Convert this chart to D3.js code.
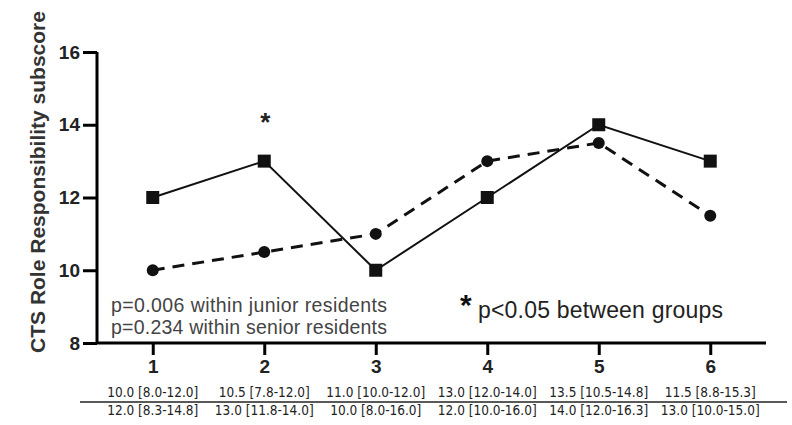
<!DOCTYPE html>
<html>
<head>
<meta charset="utf-8">
<script src="https://cdn.jsdelivr.net/npm/d3@7"></script>
<style>
  body { margin: 0; background: #fff; }
  svg { font-family: Arial, "Liberation Sans", sans-serif; }
</style>
</head>
<body>
<div id="chart"></div>
<script>
// time points and median scores
var timepoints = [1, 2, 3, 4, 5, 6];
var seniorScores = [12, 13, 10, 12, 14, 13];
var juniorScores = [10, 10.5, 11, 13, 13.5, 11.5];
var yTicks = [8, 10, 12, 14, 16];
var juniorLabels = ["10.0 [8.0-12.0]", "10.5 [7.8-12.0]", "11.0 [10.0-12.0]", "13.0 [12.0-14.0]", "13.5 [10.5-14.8]", "11.5 [8.8-15.3]"];
var seniorLabels = ["12.0 [8.3-14.8]", "13.0 [11.8-14.0]", "10.0 [8.0-16.0]", "12.0 [10.0-16.0]", "14.0 [12.0-16.3]", "13.0 [10.0-15.0]"];
var sigPoints = [2];

var width = 792, height = 425;
var margin = {top: 52, left: 97, bottom: 82, right: 25};

var x = d3.scaleLinear().domain([0.5, 6.5]).range([margin.left, width - margin.right - 1]);
var y = d3.scaleLinear().domain([8, 16]).range([height - margin.bottom, margin.top]);

var svg = d3.select("#chart").append("svg")
    .attr("width", width)
    .attr("height", height);

// axes
var yAxis = d3.axisLeft(y).tickValues(yTicks).tickSize(14).tickPadding(3);
var gy = svg.append("g")
    .attr("transform", "translate(" + margin.left + ",0)")
    .call(yAxis);
gy.select(".domain").attr("d", "M0," + y(16) + "V" + y(8)).attr("stroke-width", 3);
gy.selectAll(".tick line").attr("stroke-width", 3);
gy.selectAll(".tick text").attr("font-size", 19).attr("font-weight", "bold").attr("fill", "#222");

var xAxis = d3.axisBottom(x).tickValues(timepoints).tickFormat(d3.format("d")).tickSize(12).tickPadding(5);
var gx = svg.append("g")
    .attr("transform", "translate(0," + y(8) + ")")
    .call(xAxis);
gx.select(".domain").attr("d", "M" + margin.left + ",0H" + x(6.5)).attr("stroke-width", 3);
gx.selectAll(".tick line").attr("stroke-width", 3);
gx.selectAll(".tick text").attr("font-size", 19).attr("font-weight", "bold").attr("fill", "#222");

// y label
svg.append("text")
    .attr("transform", "translate(45," + 182 + ") rotate(-90)")
    .attr("text-anchor", "middle")
    .attr("font-size", 21)
    .attr("font-weight", "bold")
    .attr("fill", "#333")
    .text("CTS Role Responsibility subscore");

var line = d3.line()
    .x(function(d, i) { return x(timepoints[i]); })
    .y(function(d) { return y(d); });

// senior residents - solid line, squares
svg.append("path")
    .attr("d", line(seniorScores))
    .attr("fill", "none")
    .attr("stroke", "#111")
    .attr("stroke-width", 2);

// junior residents - dashed line, circles
svg.append("path")
    .attr("d", line(juniorScores))
    .attr("fill", "none")
    .attr("stroke", "#111")
    .attr("stroke-width", 3)
    .attr("stroke-dasharray", "12,8");

svg.selectAll("rect.pt")
    .data(seniorScores)
    .enter()
    .append("rect")
    .attr("class", "pt")
    .attr("x", function(d, i) { return x(timepoints[i]) - 6.5; })
    .attr("y", function(d) { return y(d) - 6.5; })
    .attr("width", 13)
    .attr("height", 13)
    .attr("fill", "#111");

svg.selectAll("circle.pt")
    .data(juniorScores)
    .enter()
    .append("circle")
    .attr("class", "pt")
    .attr("cx", function(d, i) { return x(timepoints[i]); })
    .attr("cy", function(d) { return y(d); })
    .attr("r", 6)
    .attr("fill", "#111");

// significance star
svg.selectAll("text.sig")
    .data(sigPoints)
    .enter()
    .append("text")
    .attr("class", "sig")
    .attr("x", function(d) { return x(d) + 1; })
    .attr("y", 131)
    .attr("text-anchor", "middle")
    .attr("font-size", 26)
    .attr("font-weight", "bold")
    .attr("fill", "#222")
    .text("*");

// annotations
svg.append("text")
    .attr("x", 111).attr("y", 312)
    .attr("font-size", 19.5).attr("fill", "#444")
    .attr("textLength", 276)
    .text("p=0.006 within junior residents");
svg.append("text")
    .attr("x", 111).attr("y", 334)
    .attr("font-size", 19.5).attr("fill", "#444")
    .attr("textLength", 276)
    .text("p=0.234 within senior residents");

svg.append("text")
    .attr("x", 460).attr("y", 315)
    .attr("font-size", 30).attr("font-weight", "bold").attr("fill", "#111")
    .text("*");
svg.append("text")
    .attr("x", 478).attr("y", 318)
    .attr("font-size", 23).attr("fill", "#222")
    .attr("textLength", 245)
    .text("p<0.05 between groups");

// table under the axis
var tableFont = "'Liberation Sans Narrow', 'DejaVu Sans Condensed', Arial, sans-serif";
svg.selectAll("text.jr")
    .data(juniorLabels)
    .enter()
    .append("text")
    .attr("class", "jr")
    .attr("x", function(d, i) { return x(timepoints[i]); })
    .attr("y", 397)
    .attr("text-anchor", "middle")
    .attr("font-family", tableFont)
    .attr("font-size", 13.5)
    .attr("fill", "#222")
    .text(function(d) { return d; });

svg.append("line")
    .attr("x1", 80).attr("x2", 787)
    .attr("y1", 402).attr("y2", 402)
    .attr("stroke", "#222")
    .attr("stroke-width", 1.5);

svg.selectAll("text.sr")
    .data(seniorLabels)
    .enter()
    .append("text")
    .attr("class", "sr")
    .attr("x", function(d, i) { return x(timepoints[i]); })
    .attr("y", 415)
    .attr("text-anchor", "middle")
    .attr("font-family", tableFont)
    .attr("font-size", 13.5)
    .attr("fill", "#222")
    .text(function(d) { return d; });
</script>
</body>
</html>
